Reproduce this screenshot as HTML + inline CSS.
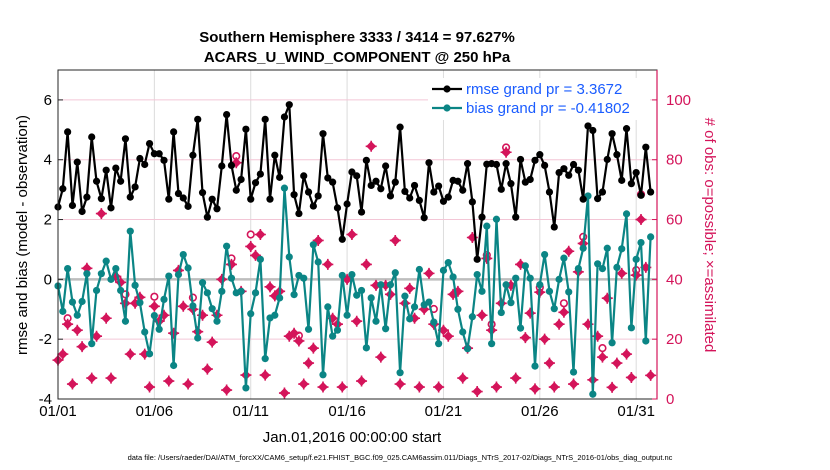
<!DOCTYPE html>
<html><head><meta charset="utf-8">
<style>
body{margin:0;background:#fff;}
svg{display:block;font-family:"Liberation Sans",Arial,sans-serif;}
</style></head>
<body>
<svg id="chart" width="830" height="470" viewBox="0 0 830 470">
<text x="357" y="42" text-anchor="middle" font-size="15" font-weight="bold">Southern Hemisphere 3333 / 3414 = 97.627%</text>
<text x="357" y="62" text-anchor="middle" font-size="15" font-weight="bold">ACARS_U_WIND_COMPONENT @ 250 hPa</text>
<g id="grid"></g>
<g id="marks"></g>
<g id="axes"></g>
<text transform="translate(27,235) rotate(-90)" text-anchor="middle" font-size="15">rmse and bias (model - observation)</text>
<text transform="translate(705,235) rotate(90)" text-anchor="middle" font-size="15" fill="#d4145a"># of obs: o=possible; ×=assimilated</text>
<text x="352" y="442" text-anchor="middle" font-size="15">Jan.01,2016 00:00:00 start</text>
<text x="400" y="460" text-anchor="middle" font-size="7.5">data file: /Users/raeder/DAI/ATM_forcXX/CAM6_setup/f.e21.FHIST_BGC.f09_025.CAM6assim.011/Diags_NTrS_2017-02/Diags_NTrS_2016-01/obs_diag_output.nc</text>
<g id="legend"></g>
</svg>
<script>
const rmse = [2.42,3.03,4.93,2.47,3.92,2.27,2.75,4.76,3.28,2.70,3.65,2.39,3.72,3.28,4.70,2.75,3.09,4.04,3.84,4.54,4.20,4.20,3.98,2.68,4.93,2.87,2.72,2.44,4.15,5.35,2.90,2.08,2.68,2.36,3.79,5.51,3.81,2.98,3.34,5.02,2.68,3.23,
3.52,5.35,2.68,4.15,3.41,5.43,5.84,2.83,2.20,3.46,2.92,2.45,2.79,4.87,3.39,3.25,2.39,1.34,2.52,3.59,3.46,2.25,3.98,3.14,3.28,3.03,3.79,2.79,3.25,5.09,2.94,2.72,3.14,2.64,2.06,3.90,2.92,3.12,2.61,2.75,
3.31,3.28,2.98,3.87,2.59,0.67,2.08,3.85,3.87,3.84,3.01,3.87,3.20,2.08,4.01,3.25,3.34,3.98,4.17,3.81,2.92,1.75,3.57,3.70,3.48,3.84,3.65,2.68,5.13,4.98,2.70,2.92,4.01,4.87,4.17,3.31,5.04,3.20,3.57,2.81,4.42,2.92];
const bias = [-0.22,-1.07,0.36,-0.76,-1.20,-0.74,0.19,-2.15,-0.37,0.19,0.61,0.00,0.36,-0.37,-1.40,1.61,-0.20,-0.78,-1.76,-2.49,-1.21,-1.67,-0.67,0.11,-2.88,0.16,0.83,0.38,-0.89,-1.96,-0.11,-0.45,-0.98,-1.40,-0.40,1.11,0.04,-0.45,-0.40,-3.63,-1.15,-0.45,
0.67,-2.65,-1.29,-1.20,-0.62,3.05,0.75,-0.51,0.13,0.04,-1.67,1.16,0.58,-3.19,-0.92,-1.90,-1.70,0.13,-1.20,0.16,-0.53,-0.37,-2.29,-0.62,-1.40,-0.18,-1.65,-0.18,0.22,-3.12,-0.56,-1.32,-0.92,0.33,-0.85,-0.76,-1.43,-2.15,0.30,0.56,
0.08,-1.00,-1.76,-2.32,-1.25,0.16,-0.40,1.78,-2.15,2.01,-1.11,-0.18,-0.78,0.04,-1.63,0.45,0.04,-2.90,-0.18,0.83,-0.40,-0.98,0.00,0.71,-0.42,-3.10,0.36,1.04,2.79,-3.84,0.52,0.36,1.04,-2.12,0.40,1.02,2.19,-1.62,0.67,1.23,-2.06,1.42];
const nAssim = [13,15,25,5,23,17.5,43.7,7,21,62,27,7,41,39,32,15,32,34,15,4,31,26,28,6,22,43,31,5,30,22.5,28,10,19,28,40,3,45,79,36,8,51,48,
55,8,37.5,34.5,36,2,21,22,19.4,5,12,17,53,4,45,27,25,4,40,55,26,6,45,84.5,38,14,38,35,53,5,32,37,27,4,30,42,25,4,23,21,
35,36,7,17,54,2.5,28,47,23,4,32,82.5,38,7,45,20.5,28.7,3.4,35.7,20,12,4,25,29,49.4,5,42.5,52,25,6.4,21,14,33.7,3.9,12,42,15,7.2,41.4,60,44,7.9];
const nPoss = [13,15,27,5,23,17.5,44.2,7,21,62,27,7,41,39,35,15,32,34,15,4,34.2,26,28,6,22,43,31,5,33.9,22.5,28,10,19,28,40,3,47,81.2,36,8,55,48,
55,8,37.5,34.5,36,2,21,22,21.2,5,12,17,53,4,45,27,25,4,40,55.9,26.8,6,45,84.5,38,14,39,35,53,5,32,37,27,4,30,42,30.1,4,23,21,
35,36,7,17,54,2.5,28,48.1,25,4,32,84.1,38,7,45,20.5,28.7,3.4,37.3,20,12,4,25,32,49.4,5,42.5,54.2,25,6.4,21,17,33.7,3.9,12,42,15,7.2,43.1,68.4,44,7.9];
const leftTicks = [-4,-2,0,2,4,6];
const rightTicks = [0,20,40,60,80,100];
const dayTicks = [0,5,10,15,20,25,30];
const dayLabels = ["01/01","01/06","01/11","01/16","01/21","01/26","01/31"];
const legendLabels = ["rmse grand pr = 3.3672","bias grand pr = -0.41802"];

const NS="http://www.w3.org/2000/svg";
const L=58,R=657,T=70,B=399;
const X0=0,X1=31.08, Y0=-4,Y1=7, C0=0,C1=110;
const xS=d=>L+(d-X0)/(X1-X0)*(R-L);
const yL=v=>B-(v-Y0)/(Y1-Y0)*(B-T);
const yR=v=>B-(v-C0)/(C1-C0)*(B-T);
const dayOf=i=>i*0.25;
function mk(tag,attrs,parent){const e=document.createElementNS(NS,tag);for(const k in attrs)e.setAttribute(k,attrs[k]);parent.appendChild(e);return e;}
const grid=document.getElementById('grid'),marks=document.getElementById('marks'),axes=document.getElementById('axes'),leg=document.getElementById('legend');
const PINK="#d4145a",TEAL="#0b8585";

dayTicks.forEach(d=>{const g=mk('line',{x1:xS(d),x2:xS(d),y1:T,y2:B,stroke:'#dcdcdc','stroke-width':1},grid);

});
rightTicks.forEach(c=>{const g=mk('line',{x1:L,x2:R,y1:yR(c),y2:yR(c),stroke:'#f3c6d6','stroke-width':1},grid);

});
const z=mk('line',{x1:L,x2:R,y1:yL(0),y2:yL(0),stroke:'#bdbdbd','stroke-width':2.5},grid);



function star(cx,cy){const g=mk('g',{},marks);


mk('path',{d:`M${cx} ${cy-5}L${cx+5} ${cy}L${cx} ${cy+5}L${cx-5} ${cy}Z`,fill:PINK},g);
mk('path',{d:`M${cx} ${cy-5.5}L${cx} ${cy+5.5}M${cx-5.5} ${cy}L${cx+5.5} ${cy}`,stroke:PINK,'stroke-width':1.6},g);}
nPoss.forEach((c,i)=>{if(Math.abs(c-nAssim[i])>1){const e=mk('circle',{cx:xS(dayOf(i)),cy:yR(c),r:3.3,fill:'#fff',stroke:PINK,'stroke-width':1.6},marks);

}});
nAssim.forEach((c,i)=>star(xS(dayOf(i)),yR(c)));

function series(vals,color,name){const pts=vals.map((v,i)=>xS(dayOf(i)).toFixed(1)+','+yL(v).toFixed(1)).join(' ');
const g=mk('g',{},marks);


mk('polyline',{points:pts,fill:'none',stroke:color,'stroke-width':2.2,'stroke-linejoin':'round'},g);
vals.forEach((v,i)=>{const c=mk('circle',{cx:xS(dayOf(i)),cy:yL(v),r:3.6,fill:color},g);

});}
series(bias,TEAL,'bias-series');
series(rmse,'#000','rmse-series');

const fr=mk('rect',{x:L,y:T,width:R-L,height:B-T,fill:'none',stroke:'#262626','stroke-width':1},axes);


mk('line',{x1:R,x2:R,y1:T,y2:B,stroke:PINK,'stroke-width':1.2},axes);
leftTicks.forEach(v=>{mk('line',{x1:L,x2:L+5,y1:yL(v),y2:yL(v),stroke:'#262626'},axes);
const t=mk('text',{x:L-6,y:yL(v)+5,'text-anchor':'end','font-size':15},axes);t.textContent=v;

});
rightTicks.forEach(c=>{mk('line',{x1:R-5,x2:R,y1:yR(c),y2:yR(c),stroke:PINK},axes);
const t=mk('text',{x:R+9,y:yR(c)+5,'font-size':15,fill:PINK},axes);t.textContent=c;

});
dayTicks.forEach((d,k)=>{const t=mk('text',{x:xS(d),y:B+17,'text-anchor':'middle','font-size':15},axes);t.textContent=dayLabels[k];

});

mk('rect',{x:428,y:78,width:222,height:42,fill:'#fff'},leg);
[['#000',89],[TEAL,108]].forEach(([col,y],k)=>{
mk('line',{x1:432,x2:462,y1:y,y2:y,stroke:col,'stroke-width':2.2},leg);
mk('circle',{cx:447,cy:y,r:3.6,fill:col},leg);
const t=mk('text',{x:466,y:y+5,'font-size':15,fill:'#1a5cff'},leg);t.textContent=legendLabels[k];

});
</script>
</body></html>
